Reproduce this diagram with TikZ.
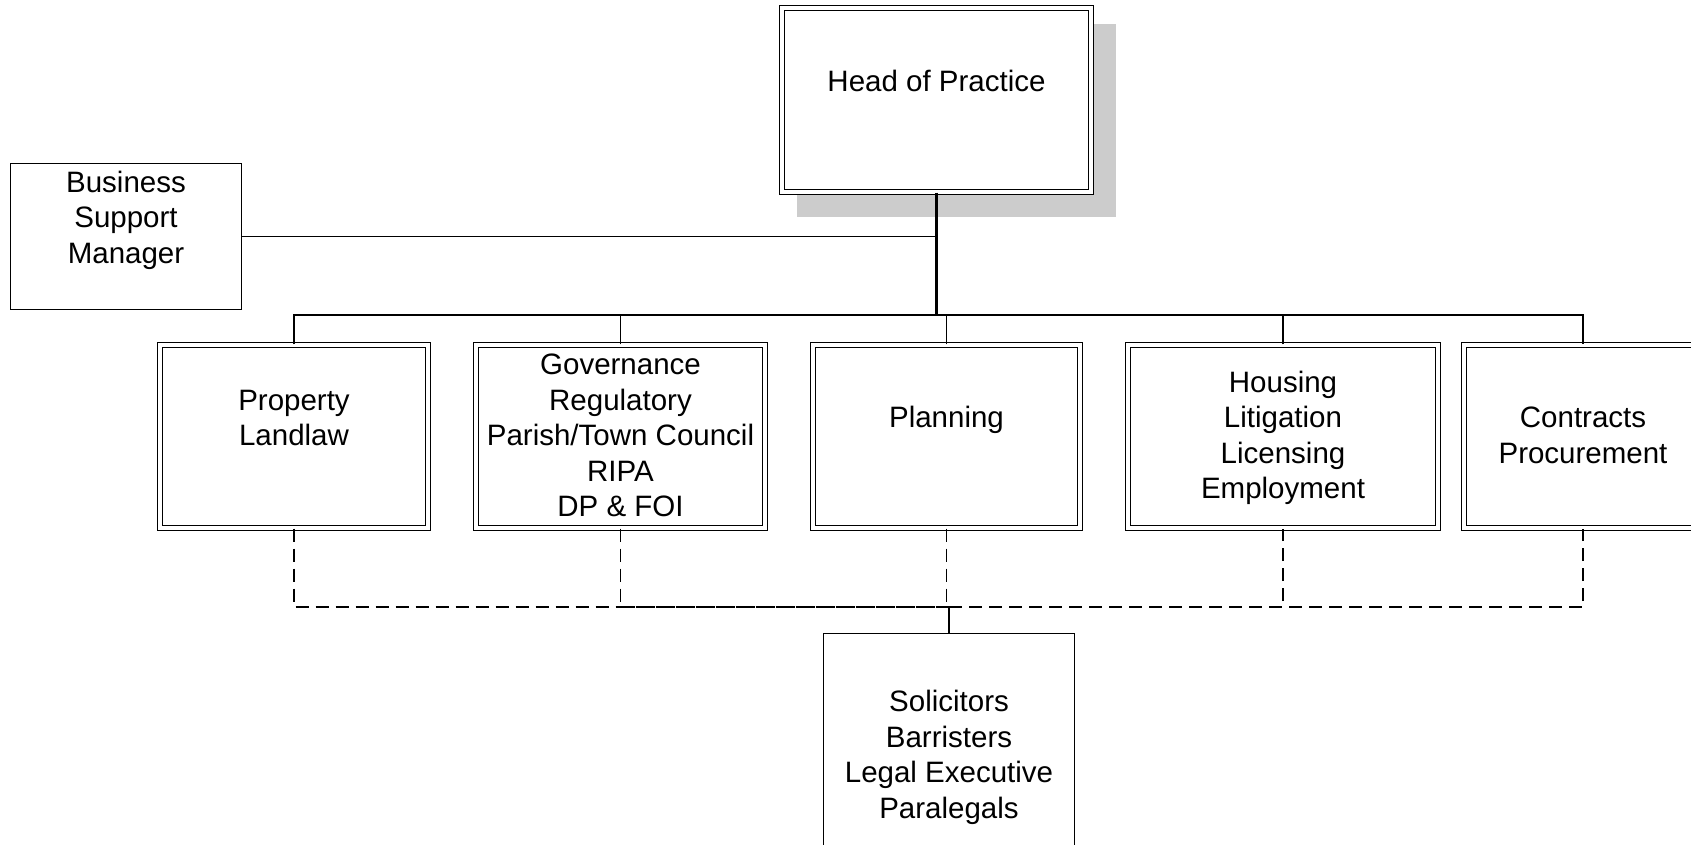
\documentclass[tikz,border=0pt]{standalone}
\usepackage{fontspec}
\setmainfont{Liberation Sans}
\usetikzlibrary{calc,backgrounds}
\definecolor{shadowgray}{RGB}{204,204,204}
\newcommand\mystrut{\rule[-8.75pt]{0pt}{35.5pt}}
\begin{document}
\begin{tikzpicture}[x=1pt,y=-1pt,
  every node/.style={font=\fontsize{29.5}{35.5}\selectfont, align=center, inner sep=0pt},
  dbox/.style={draw=black, line width=1.4pt, double=white, double distance=3.2pt, fill=white, rectangle, minimum height=183pt},
  sbox/.style={draw=black, line width=1.4pt, fill=white, rectangle},
  conn/.style={draw=black, line width=1.6pt},
  mainconn/.style={draw=black, line width=2.6pt},
  dconn/.style={draw=black, line width=1.6pt, dash pattern=on 13pt off 7pt},
]
\useasboundingbox (0,0) rectangle (1691,845);

\coordinate (busy) at (0,315);
\coordinate (dashy) at (0,607);

% nodes
\node[dbox, minimum width=309pt, minimum height=184pt] (head) at (936.5,100) {\mystrut Head of Practice\\\mystrut};
\begin{scope}[on background layer]
  \fill[shadowgray] ($(head.north west)+(16,17)$) rectangle ($(head.south east)+(24,24)$);
\end{scope}

\node[sbox, minimum width=231pt, minimum height=146pt] (bsm) at (126,236.5) {\mystrut Business\\Support\\Manager\\\mystrut};

\node[dbox, minimum width=268pt] (prop) at (294,436.5) {\mystrut Property\\Landlaw\\\mystrut};
\node[dbox, minimum width=289pt] (gov) at (620.5,436.5) {\mystrut Governance\\Regulatory\\Parish/Town Council\\RIPA\\DP \& FOI\mystrut};
\node[dbox, minimum width=267pt] (plan) at (946.5,436.5) {\mystrut Planning\\\mystrut};
\node[dbox, minimum width=310pt] (hous) at (1283,436.5) {\mystrut Housing\\Litigation\\Licensing\\Employment\mystrut};
\node[dbox, minimum width=238pt] (cont) at (1583,436.5) {\mystrut Contracts\\Procurement\mystrut};

\node[sbox, minimum width=251pt, minimum height=245pt] (sol) at (949,756) {\mystrut Solicitors\\Barristers\\Legal Executive\\Paralegals\mystrut};

% solid connectors
\draw[mainconn] (head.south) -- (head.south |- busy);
\draw[conn] (bsm.east) -- (head.south |- bsm.east);
\draw[conn] (prop.north) -- (prop.north |- busy) -- (cont.north |- busy) -- (cont.north);
\draw[conn] (gov.north) -- (gov.north |- busy);
\draw[conn] (plan.north) -- (plan.north |- busy);
\draw[conn] (hous.north) -- (hous.north |- busy);

% dashed connectors
\draw[dconn] (prop.south) |- (sol.north |- dashy);
\draw[dconn] (gov.south) |- (sol.north |- dashy);
\draw[dconn] (plan.south) -- (plan.south |- dashy);
\draw[dconn] (sol.north |- dashy) -| (hous.south);
\draw[dconn] (sol.north |- dashy) -| (cont.south);
\draw[conn] (sol.north |- dashy) -- (sol.north);
\end{tikzpicture}
\end{document}
